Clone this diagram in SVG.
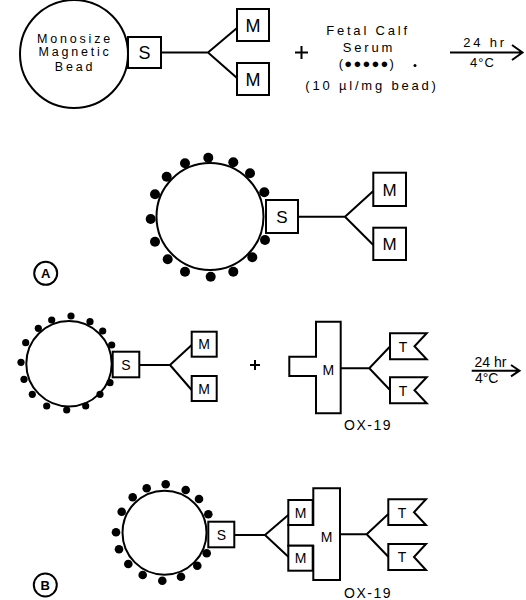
<svg xmlns="http://www.w3.org/2000/svg" width="526" height="600" viewBox="0 0 526 600">
<defs>
<style>
.o{fill:none;stroke:#000;stroke-width:2}
.w{fill:#fff;stroke:#000;stroke-width:2}
.l{stroke:#000;stroke-width:2;fill:none}
.d{fill:#000}
text{font-family:"Liberation Sans",Arial,sans-serif;fill:#000;text-anchor:middle}
.sp{letter-spacing:2.8px}
.lab{font-family:"Liberation Sans Narrow","Liberation Sans",sans-serif;font-weight:bold;font-size:13px}
</style>
</defs>
<rect width="526" height="600" fill="#fff"/>

<!-- Top row -->
<g id="bead-top">
<circle class="w" cx="74" cy="54" r="54"/>
<text class="sp" x="75" y="42.5" font-size="12.5">Monosize</text>
<text class="sp" x="75" y="56" font-size="12.5">Magnetic</text>
<text class="sp" x="75" y="70.5" font-size="12.5">Bead</text>
</g>
<g id="connectors">
<path class="l" d="M161 52.5H208M208 52.5L237 28M208 52.5L237 78"/>
<path class="l" d="M298 216.7H345M345 216.7L373.3 191M345 216.7L373.3 245"/>
<path class="l" d="M139.3 365H170M170 365L191.7 345M170 365L191.7 390"/>
<path class="l" d="M340.7 368.3H369.3M369.3 368.3L390 346.5M369.3 368.3L390 390"/>
<path class="l" d="M234.3 535H265M265 535L288.3 515M265 535L288.3 556.7"/>
<path class="l" d="M340 534.3H366.7M366.7 534.3L388.3 514M366.7 534.3L388.3 556.7"/>
<path class="l" d="M450 52.5H522M512 45L522.5 52.5L512 60"/>
<path class="l" d="M471.7 370.7H519M511 365L519.5 370.7L511 376.4"/>
</g>
<g id="S-top">
<rect class="w" x="128" y="37" width="33" height="31"/>
<text x="144.5" y="59" font-size="18">S</text>
</g>
<g id="M-top-1">
<rect class="w" x="237" y="9" width="32" height="32"/>
<text x="253" y="31.5" font-size="18">M</text>
</g>
<g id="M-top-2">
<rect class="w" x="237" y="63" width="32" height="32"/>
<text x="253" y="85.5" font-size="18">M</text>
</g>
<g id="plus-top">
<path class="l" d="M295 52.5H308M301.5 46V59"/>
</g>
<g id="serum">
<text class="sp" x="368" y="35" font-size="13" letter-spacing="3.3">Fetal Calf</text>
<text class="sp" x="369" y="51.7" font-size="13" letter-spacing="3">Serum</text>
<text x="367" y="68.3" font-size="13" letter-spacing="1.2">(●●●●●)</text>
<circle class="d" cx="415" cy="65.5" r="1.5"/>
<text class="sp" x="372" y="90" font-size="13">(10 µl/mg bead)</text>
</g>
<g id="arrow-top-label">
<text class="sp" x="485" y="46.7" font-size="13">24 hr</text>
<text x="482.5" y="66.7" font-size="13" letter-spacing="1">4°C</text>
</g>

<!-- Section A -->
<g id="bead-A">
<circle class="w" cx="210" cy="216.5" r="53.5"/>
<g class="d">
<circle cx="208.3" cy="157.7" r="5"/><circle cx="233.3" cy="162.3" r="5"/><circle cx="250" cy="173.3" r="5"/>
<circle cx="264.3" cy="192.3" r="5"/><circle cx="265" cy="240" r="5"/><circle cx="252.3" cy="257.3" r="5"/>
<circle cx="233.3" cy="271.7" r="5"/><circle cx="210.7" cy="276.7" r="5"/><circle cx="185" cy="271.7" r="5"/>
<circle cx="167.7" cy="259.3" r="5"/><circle cx="155" cy="241.7" r="5"/><circle cx="150.7" cy="219" r="5"/>
<circle cx="155" cy="194.3" r="5"/><circle cx="166.7" cy="176.7" r="5"/><circle cx="185" cy="163.3" r="5"/>
</g>
</g>
<g id="S-A">
<rect class="w" x="266" y="200" width="32" height="33"/>
<text x="282" y="222.5" font-size="17">S</text>
</g>
<g id="M-A-1">
<rect class="w" x="373.3" y="172.7" width="32.7" height="33.3"/>
<text x="389.7" y="195.5" font-size="17">M</text>
</g>
<g id="M-A-2">
<rect class="w" x="373.3" y="227.7" width="32.7" height="32.3"/>
<text x="389.7" y="250" font-size="17">M</text>
</g>
<g id="label-A">
<circle class="o" cx="45.7" cy="273.3" r="11.5" stroke-width="1.8"/>
<text class="lab" x="45.7" y="278">A</text>
</g>

<!-- Section B top -->
<g id="bead-B1">
<circle class="w" cx="69" cy="363.7" r="42.7"/>
<g class="d">
<circle cx="71" cy="316" r="3.6"/><circle cx="90" cy="321.7" r="3.6"/><circle cx="102.7" cy="331" r="3.6"/>
<circle cx="111.7" cy="345" r="3.6"/><circle cx="110" cy="382.7" r="3.6"/><circle cx="100" cy="394.3" r="3.6"/>
<circle cx="85.7" cy="406" r="3.6"/><circle cx="66.7" cy="410" r="3.6"/><circle cx="46.7" cy="406" r="3.6"/>
<circle cx="32.3" cy="394.3" r="3.6"/><circle cx="24" cy="379.3" r="3.6"/><circle cx="21" cy="362.3" r="3.6"/>
<circle cx="25.7" cy="342.7" r="3.6"/><circle cx="38.3" cy="328.3" r="3.6"/><circle cx="51.7" cy="320" r="3.6"/>
</g>
</g>
<g id="S-B1">
<rect class="w" x="112.7" y="351.7" width="26.6" height="25.6"/>
<text x="126" y="369.5" font-size="14">S</text>
</g>
<g id="M-B1-1">
<rect class="w" x="191.7" y="331.7" width="25" height="25"/>
<text x="204.2" y="349.2" font-size="14">M</text>
</g>
<g id="M-B1-2">
<rect class="w" x="191.7" y="376" width="25" height="25"/>
<text x="204.2" y="393.5" font-size="14">M</text>
</g>
<g id="plus-B">
<path class="l" d="M250 365H260M255 360V370"/>
</g>
<g id="OX19-B1">
<path class="w" d="M316 321.7H340.7V413.3H316V376H289.3V356.7H316Z"/>
<text x="328.3" y="375" font-size="14">M</text>
<text x="368" y="430" font-size="14" letter-spacing="1.5">OX-19</text>
</g>
<g id="T-B1-1">
<path class="w" d="M390 333.3H426.7L414.5 346.3L426.7 359.3H390Z"/>
<text x="403" y="351.5" font-size="14">T</text>
</g>
<g id="T-B1-2">
<path class="w" d="M390 377.3H426.7L414.5 390.3L426.7 403.3H390Z"/>
<text x="403" y="395.5" font-size="14">T</text>
</g>
<g id="arrow-B-label">
<text x="490.5" y="366.7" font-size="14">24 hr</text>
<text x="486.7" y="383.3" font-size="14">4°C</text>
</g>

<!-- Section B bottom -->
<g id="bead-B2">
<circle class="w" cx="164.5" cy="532.7" r="42"/>
<g class="d">
<circle cx="165.7" cy="484.3" r="4.3"/><circle cx="185.7" cy="490" r="4.3"/><circle cx="199" cy="499" r="4.3"/>
<circle cx="208.3" cy="514.3" r="4.3"/><circle cx="206.7" cy="553.3" r="4.3"/><circle cx="197.3" cy="565.7" r="4.3"/>
<circle cx="181" cy="576.7" r="4.3"/><circle cx="162.3" cy="580.7" r="4.3"/><circle cx="142.7" cy="575" r="4.3"/>
<circle cx="128.3" cy="564" r="4.3"/><circle cx="119" cy="549.3" r="4.3"/><circle cx="116" cy="532.3" r="4.3"/>
<circle cx="121.7" cy="511.7" r="4.3"/><circle cx="132.7" cy="497.3" r="4.3"/><circle cx="146.7" cy="488.3" r="4.3"/>
</g>
</g>
<g id="S-B2">
<rect class="w" x="208.3" y="521.7" width="26" height="25.6"/>
<text x="221.3" y="539.7" font-size="14">S</text>
</g>
<g id="OX19-B2">
<path class="w" d="M313.3 488.3H340V580H313.3V545.7H288.3V525H313.3Z"/>
<text x="326.7" y="541.5" font-size="14">M</text>
<text x="368" y="598.3" font-size="14" letter-spacing="1.5">OX-19</text>
</g>
<g id="M-B2-1">
<rect class="w" x="288.3" y="500" width="24.4" height="25"/>
<text x="300.5" y="517.5" font-size="14">M</text>
</g>
<g id="M-B2-2">
<rect class="w" x="288.3" y="545.7" width="24.4" height="25"/>
<text x="300.5" y="563.2" font-size="14">M</text>
</g>
<g id="T-B2-1">
<path class="w" d="M388.3 499.3H426L414 512.2L426 525H388.3Z"/>
<text x="402" y="517.5" font-size="14">T</text>
</g>
<g id="T-B2-2">
<path class="w" d="M388.3 544H426L414 557L426 570H388.3Z"/>
<text x="402" y="562.2" font-size="14">T</text>
</g>
<g id="label-B">
<circle class="o" cx="45.3" cy="585" r="11.5" stroke-width="1.8"/>
<text class="lab" x="45.3" y="589.7">B</text>
</g>
</svg>
